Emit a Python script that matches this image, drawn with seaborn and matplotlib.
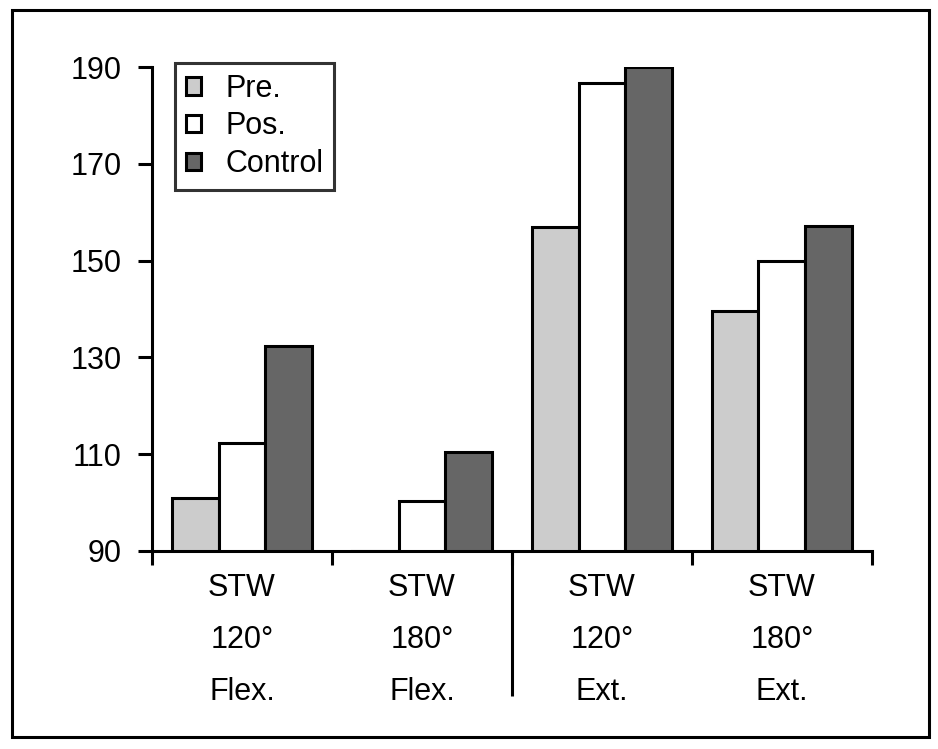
import pandas as pd
import seaborn as sns
import matplotlib
matplotlib.use('Agg')
import matplotlib.pyplot as plt
import matplotlib.transforms as mtransforms
from matplotlib.patches import Rectangle

# Data
groups = ['STW\n120°\nFlex.', 'STW\n180°\nFlex.', 'STW\n120°\nExt.', 'STW\n180°\nExt.']
series = ['Pre.', 'Pos.', 'Control']
pre_vals = [101, 90, 157, 139.5]
pos_vals = [112.3, 100.3, 186.7, 150]
control_vals = [132.4, 110.5, 190, 157.1]
colors = ['#cccccc', '#ffffff', '#666666']
yticks = [90, 110, 130, 150, 170, 190]

rows = []
for name, vals in zip(series, [pre_vals, pos_vals, control_vals]):
    for g, v in zip(groups, vals):
        rows.append({'group': g, 'series': name, 'value': v})
df = pd.DataFrame(rows)

sns.set_style('white')
plt.rcParams['font.family'] = ['Liberation Sans', 'DejaVu Sans']
plt.rcParams['text.color'] = 'black'
plt.rcParams['xtick.color'] = 'black'
plt.rcParams['ytick.color'] = 'black'

LW = 2.2
FS = 22

fig = plt.figure(figsize=(9.38, 7.49), dpi=100)
ax = fig.add_axes([0.162, 0.2644, 0.7675, 0.6461])

sns.barplot(data=df, x='group', y='value', hue='series', order=groups,
            hue_order=series, palette=colors, edgecolor='black', linewidth=LW,
            width=0.78, saturation=1, ax=ax)

ax.set_ylim(90, 190)
ax.set_xlim(-0.5, 3.5)
ax.set_yticks(yticks)
ax.tick_params(axis='y', direction='out', length=10, width=LW, labelsize=FS,
               pad=12, left=True, colors='black')

# group boundary ticks (major) and group labels (minor)
ax.set_xticks([-0.5, 0.5, 1.5, 2.5, 3.5])
ax.set_xticklabels([])
ax.set_xticks([0, 1, 2, 3], minor=True)
ax.set_xticklabels(groups, minor=True, fontsize=FS, linespacing=1.95)
ax.tick_params(axis='x', which='major', direction='out', length=10, width=LW,
               bottom=True, colors='black')
ax.tick_params(axis='x', which='minor', length=0, pad=16, colors='black')
ax.set_xlabel('')
ax.set_ylabel('')

# long divider between Flex. and Ext.
trans = mtransforms.blended_transform_factory(ax.transData, ax.transAxes)
ax.plot([1.5, 1.5], [0, -0.3], color='black', lw=LW, transform=trans,
        clip_on=False, solid_capstyle='butt')

for side in ['top', 'right']:
    ax.spines[side].set_visible(False)
for side in ['left', 'bottom']:
    ax.spines[side].set_linewidth(LW)
    ax.spines[side].set_color('black')

leg = ax.legend(loc='upper left', bbox_to_anchor=(0.032, 1.008), fontsize=FS,
                frameon=True, fancybox=False, edgecolor='black',
                handlelength=0.5, handleheight=0.5, handletextpad=0.8,
                borderpad=0.35, borderaxespad=0, labelspacing=0.25)
leg.get_frame().set_linewidth(LW)
for h in leg.legend_handles:
    h.set_edgecolor('black')
    h.set_linewidth(LW)

# outer border of the figure
fig.patches.append(Rectangle((0.0128, 0.016), 0.9776, 0.9706, fill=False,
                             edgecolor='black', lw=LW,
                             transform=fig.transFigure, figure=fig))

fig.savefig('out.png', dpi=100)
